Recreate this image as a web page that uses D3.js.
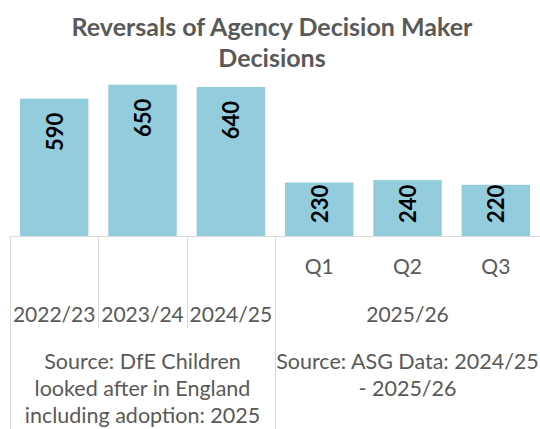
<!DOCTYPE html>
<html>
<head>
<meta charset="utf-8">
<script src="https://cdn.jsdelivr.net/npm/d3@7/dist/d3.min.js"></script>
<style>
  html, body { margin: 0; padding: 0; background: #fff; }
  svg { display: block; }
</style>
</head>
<body>
<svg id="chart" width="540" height="429"></svg>
<script>
// ---- data ----
const titleLines = ["Reversals of Agency Decision Maker", "Decisions"];
const quarters = ["", "", "", "Q1", "Q2", "Q3"];
const periods = ["2022/23", "2023/24", "2024/25", "2025/26", "2025/26", "2025/26"];
const sourceA = ["Source: DfE Children", "looked after in England", "including adoption: 2025"];
const sourceB = ["Source: ASG Data: 2024/25", "- 2025/26"];
const sources = [sourceA, sourceA, sourceA, sourceB, sourceB, sourceB];
const values = [590, 650, 640, 230, 240, 220];

// ---- layout ----
const W = 540, H = 429;
const baseY = 236;
const font = "Lato, 'Open Sans', sans-serif";
const grey = "#595959";
const lineCol = "#D9D9D9";
const barCol = "#93CDDD";

const svg = d3.select("#chart");

const idx = d3.range(values.length);
const x = d3.scaleBand().domain(idx).range([10, 540]).paddingInner(0.225).paddingOuter(0.1125);
const y = d3.scaleLinear().domain([0, 700]).range([baseY, 73]);

// title
svg.append("g").selectAll("text").data(titleLines).join("text")
  .attr("x", 272)
  .attr("y", (d, i) => 36 + i * 31)
  .attr("text-anchor", "middle")
  .attr("font-family", font)
  .attr("font-weight", "bold")
  .attr("font-size", 25)
  .attr("fill", grey)
  .text(d => d);

// bars
svg.append("g").selectAll("rect").data(values).join("rect")
  .attr("x", (d, i) => x(i))
  .attr("width", x.bandwidth())
  .attr("y", d => y(d))
  .attr("height", d => baseY - y(d))
  .attr("fill", barCol);

// data labels (rotated, inside end)
const lab = svg.append("g").selectAll("text").data(values).join("text")
  .attr("font-family", font)
  .attr("font-weight", "bold")
  .attr("font-size", 22)
  .attr("fill", "#000")
  .attr("text-anchor", "start")
  .attr("dominant-baseline", "central")
  .text(d => d3.format("d")(d));
lab.each(function(d, i) {
  const len = this.getComputedTextLength();
  const top = Math.min(y(d) + 14, baseY - 13 - len);
  const bottom = top + len;
  const cx = x(i) + x.bandwidth() / 2;
  d3.select(this).attr("transform", `translate(${cx},${bottom}) rotate(-90)`);
});

// category axis
const axis = svg.append("g").attr("stroke", lineCol).attr("stroke-width", 1);
axis.append("line").attr("x1", 10).attr("x2", 540).attr("y1", baseY + 0.5).attr("y2", baseY + 0.5);

const step = x.step();
const bound = i => Math.round(x(i) - step * x.paddingInner() / 2) + 0.5;
const row2Bottom = 328;
const vlines = [{ x: 10.5, y2: H }];
for (let i = 1; i < values.length; i++) {
  if (sources[i] !== sources[i - 1]) vlines.push({ x: bound(i), y2: H });
  else if (periods[i] !== periods[i - 1]) vlines.push({ x: bound(i), y2: row2Bottom });
}
axis.selectAll("line.v").data(vlines).join("line")
  .attr("class", "v")
  .attr("x1", d => d.x).attr("x2", d => d.x)
  .attr("y1", baseY).attr("y2", d => d.y2);

// grouping helper
function groups(arr) {
  const out = [];
  arr.forEach((v, i) => {
    const last = out[out.length - 1];
    if (last && last.v === v) last.end = i; else out.push({ v, start: i, end: i });
  });
  return out;
}
const center = g => (x(g.start) + x(g.end) + x.bandwidth()) / 2;

const txt = svg.append("g")
  .attr("font-family", font)
  .attr("font-size", 21)
  .attr("fill", grey)
  .attr("text-anchor", "middle");

txt.selectAll("text.q").data(quarters).join("text")
  .attr("class", "q")
  .attr("x", (d, i) => x(i) + x.bandwidth() / 2)
  .attr("y", 274)
  .text(d => d);

txt.selectAll("text.p").data(groups(periods)).join("text")
  .attr("class", "p")
  .attr("x", center)
  .attr("y", 322)
  .text(d => d.v);

const sg = txt.selectAll("text.s").data(groups(sources)).join("text")
  .attr("class", "s")
  .attr("x", center)
  .attr("y", 369)
  .attr("font-size", 21.5);
sg.selectAll("tspan").data(d => d.v.map(l => ({ l, cx: center(d) }))).join("tspan")
  .attr("x", d => d.cx)
  .attr("dy", (d, i) => i === 0 ? 0 : 27)
  .text(d => d.l);
</script>
</body>
</html>
